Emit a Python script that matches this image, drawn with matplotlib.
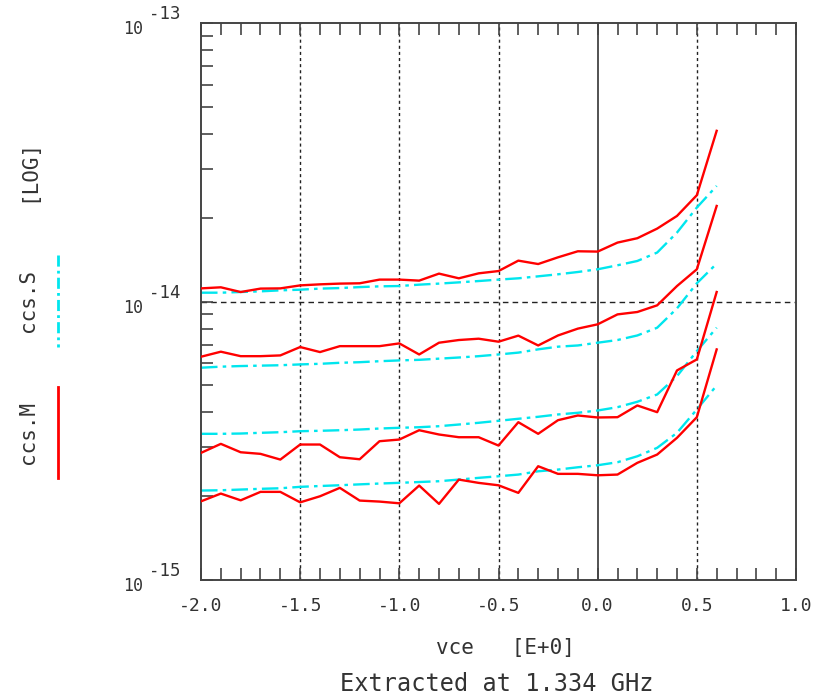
import numpy as np
import matplotlib
matplotlib.use("Agg")
import matplotlib.pyplot as plt
from matplotlib.lines import Line2D
from matplotlib import transforms
from matplotlib.ticker import MultipleLocator, LogLocator, NullFormatter, FixedLocator

plt.rcParams['font.family'] = ['DejaVu Sans Mono', 'DejaVu Sans']
plt.rcParams['axes.unicode_minus'] = False

# ---------------- data ----------------
UNIT = 1e-14
vce = [-2.0, -1.9, -1.8, -1.7, -1.6, -1.5, -1.4, -1.3, -1.2, -1.1, -1.0,
       -0.9, -0.8, -0.7, -0.6, -0.5, -0.4, -0.3, -0.2, -0.1, 0.0,
       0.1, 0.2, 0.3, 0.4, 0.5, 0.6]

# measured (ccs.M), in units of 1e-14
meas_1 = [1.116, 1.126, 1.083, 1.114, 1.116, 1.144, 1.154, 1.161, 1.164, 1.200, 1.200,
          1.190, 1.261, 1.213, 1.264, 1.288, 1.404, 1.365, 1.443, 1.517, 1.513,
          1.630, 1.690, 1.830, 2.032, 2.412, 4.109]
meas_2 = [0.634, 0.661, 0.637, 0.637, 0.641, 0.687, 0.659, 0.692, 0.692, 0.692, 0.708,
          0.646, 0.712, 0.728, 0.736, 0.718, 0.755, 0.696, 0.756, 0.800, 0.829,
          0.900, 0.918, 0.970, 1.138, 1.307, 2.207]
meas_3 = [0.2862, 0.3084, 0.2877, 0.2839, 0.2708, 0.3067, 0.3067, 0.2761, 0.2715, 0.3152, 0.3196,
          0.3452, 0.3332, 0.3258, 0.3258, 0.3041, 0.3689, 0.3351, 0.3751, 0.3900, 0.3836,
          0.3845, 0.4236, 0.4008, 0.5661, 0.6201, 1.083]
meas_4 = [0.1917, 0.2044, 0.1933, 0.2073, 0.2073, 0.1901, 0.1999, 0.2143, 0.1929, 0.1913, 0.1886,
          0.2184, 0.1877, 0.2295, 0.2233, 0.2189, 0.2056, 0.2563, 0.2406, 0.2406, 0.2378,
          0.2392, 0.2636, 0.2823, 0.3242, 0.3845, 0.6736]

# simulated (ccs.S), in units of 1e-14
sim_1 = [1.077, 1.077, 1.083, 1.089, 1.098, 1.104, 1.114, 1.119, 1.128, 1.135, 1.138,
         1.151, 1.161, 1.173, 1.186, 1.200, 1.213, 1.233, 1.254, 1.278, 1.307,
         1.351, 1.400, 1.501, 1.771, 2.178, 2.605]
sim_2 = [0.579, 0.584, 0.587, 0.589, 0.591, 0.595, 0.598, 0.603, 0.606, 0.611, 0.615,
         0.618, 0.624, 0.630, 0.637, 0.646, 0.656, 0.674, 0.689, 0.696, 0.712,
         0.728, 0.756, 0.806, 0.946, 1.164, 1.370]
sim_3 = [0.3351, 0.3351, 0.3359, 0.3379, 0.3396, 0.3424, 0.3436, 0.3452, 0.3472, 0.3501, 0.3522,
         0.3539, 0.3569, 0.3619, 0.3671, 0.3732, 0.3795, 0.3858, 0.3933, 0.3988, 0.4064,
         0.4177, 0.4368, 0.4640, 0.5400, 0.6643, 0.8063]
sim_4 = [0.2096, 0.2101, 0.2113, 0.2126, 0.2136, 0.2161, 0.2176, 0.2190, 0.2206, 0.2221, 0.2234,
         0.2249, 0.2264, 0.2295, 0.2328, 0.2359, 0.2392, 0.2458, 0.2493, 0.2541, 0.2584,
         0.2649, 0.2783, 0.2984, 0.3379, 0.4099, 0.5000]

x_ticks = [-2.0, -1.5, -1.0, -0.5, 0.0, 0.5, 1.0]
x_tick_labels = ['-2.0', '-1.5', '-1.0', '-0.5', '0.0', '0.5', '1.0']
y_decades = [-15, -14, -13]

RED = '#ff0000'
CYAN = '#00e6ee'
TXT = '#333333'

# ---------------- figure ----------------
W, H = 818, 697
fig = plt.figure(figsize=(W / 100, H / 100), dpi=100)
ax_l, ax_r, ax_t, ax_b = 201, 796, 23.3, 580
ax = fig.add_axes([ax_l / W, 1 - ax_b / H, (ax_r - ax_l) / W, (ax_b - ax_t) / H])

ax.set_yscale('log')
ax.set_xlim(-2.0, 1.0)
ax.set_ylim(1e-15, 1e-13)

# grid
for gx in [-1.5, -1.0, -0.5, 0.5]:
    ax.axvline(gx, color='#222222', lw=1.0, ls=(0, (2.2, 2.2)), zorder=1)
ax.axvline(0.0, color='#444444', lw=1.3, zorder=1)
ax.axhline(1e-14, color='#222222', lw=1.0, ls=(0, (4, 3)), zorder=1)

x = np.array(vce)
dashdot = (0, (7, 2.2, 1.5, 2.2))
for s in [sim_1, sim_2, sim_3, sim_4]:
    ax.plot(x, np.array(s) * UNIT, color=CYAN, lw=1.7, ls=dashdot, zorder=2)
for m in [meas_1, meas_2, meas_3, meas_4]:
    ax.plot(x, np.array(m) * UNIT, color=RED, lw=1.7, zorder=3)

# spines
for side in ['left', 'right', 'top', 'bottom']:
    ax.spines[side].set_color('#444444')
    ax.spines[side].set_linewidth(1.4)

# ticks
ax.xaxis.set_major_locator(FixedLocator(x_ticks))
ax.xaxis.set_minor_locator(MultipleLocator(0.1))
ax.set_xticklabels(x_tick_labels)
ax.tick_params(axis='x', which='both', direction='in', top=True, bottom=True,
               length=8.5, width=1.2, color='#444444', labelsize=13,
               labelcolor=TXT, pad=12)
ax.yaxis.set_major_locator(FixedLocator([10.0 ** e for e in y_decades]))
ax.yaxis.set_minor_locator(LogLocator(base=10, subs=np.arange(2, 10)))
ax.yaxis.set_major_formatter(NullFormatter())
ax.yaxis.set_minor_formatter(NullFormatter())
ax.tick_params(axis='y', which='both', direction='in', left=True, right=False,
               length=8.5, width=1.2, color='#444444')

# y tick labels as 10 with raised exponent
bt = transforms.blended_transform_factory(ax.transAxes, ax.transData)
for e in y_decades:
    ax.text((123 - ax_l) / (ax_r - ax_l), 10.0 ** e, '10',
            transform=bt + transforms.ScaledTranslation(0, -6 / 100, fig.dpi_scale_trans),
            ha='left', va='center', fontsize=12, color=TXT)
    ax.text((149 - ax_l) / (ax_r - ax_l), 10.0 ** e, str(e),
            transform=bt + transforms.ScaledTranslation(0, 9 / 100, fig.dpi_scale_trans),
            ha='left', va='center', fontsize=12.5, color=TXT)

# x labels
fig.text(505 / W, 1 - 648 / H, 'vce   [E+0]', ha='center', va='center', fontsize=15, color=TXT)
fig.text(497 / W, 1 - 684 / H, 'Extracted at 1.334 GHz', ha='center', va='center', fontsize=17, color=TXT)

# y label with legend swatches
fig.text(28 / W, 1 - 170 / H, '[LOG]', rotation=90, ha='center', va='center', fontsize=15, color=TXT)
fig.text(28 / W, 1 - 300 / H, 'ccs.S', rotation=90, ha='center', va='center', fontsize=15, color=TXT)
fig.text(28 / W, 1 - 432 / H, 'ccs.M', rotation=90, ha='center', va='center', fontsize=15, color=TXT)
fig.add_artist(Line2D([58 / W, 58 / W], [1 - 255 / H, 1 - 347 / H], transform=fig.transFigure,
                      color=CYAN, lw=2, ls=(0, (4, 1.5, 1, 1.5))))
fig.add_artist(Line2D([58 / W, 58 / W], [1 - 387 / H, 1 - 478 / H], transform=fig.transFigure,
                      color=RED, lw=2))

fig.savefig('out.png', dpi=100)
